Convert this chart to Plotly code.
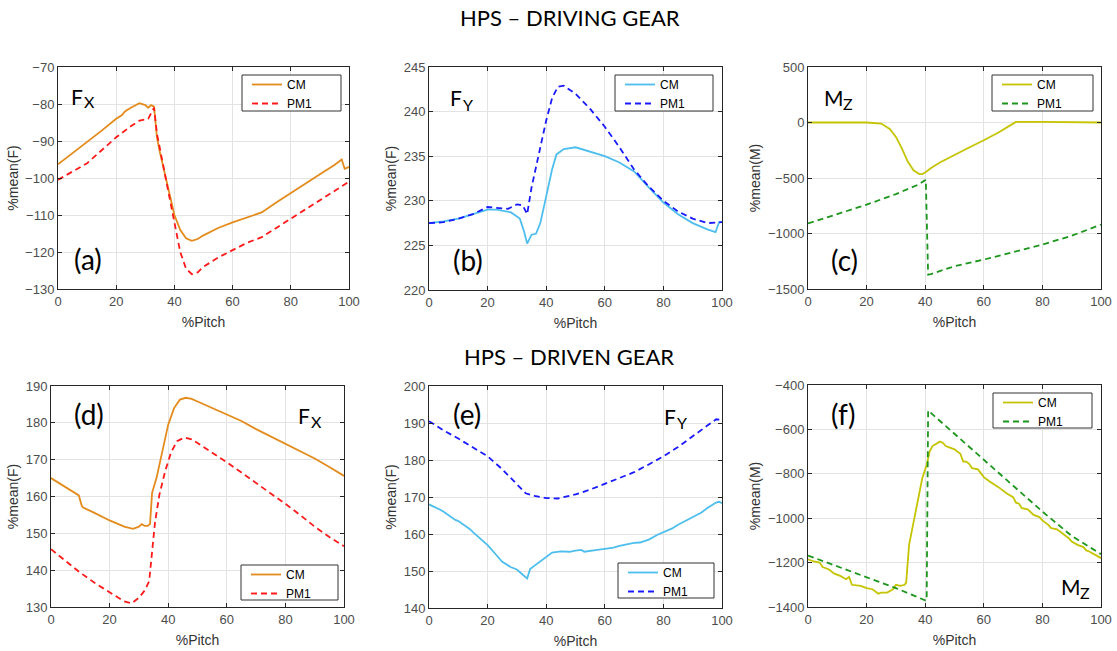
import plotly.graph_objects as go

# ---------------- data ----------------
# (a) driving gear Fx
a_cm_x = [0, 5, 10, 15, 20, 22, 23, 25, 28, 30, 31, 32, 33, 34, 35, 37, 40, 42, 44, 46, 48, 50, 55, 60, 65, 70, 75, 80, 85, 90, 95, 97.5, 98.5, 100]
a_cm_y = [-96.3, -93.3, -90.3, -87.2, -84, -83, -82, -81, -79.8, -80.3, -81, -80.3, -80.7, -89, -93, -100, -110, -114, -116.3, -117, -116.5, -115.5, -113.5, -112, -110.6, -109.3, -106.6, -104, -101.5, -99, -96.5, -95, -97.5, -97]
a_pm_x = [0, 5, 10, 15, 20, 25, 28, 31, 33, 34, 36, 38, 40, 42, 44, 46, 48, 50, 55, 60, 65, 70, 75, 80, 85, 90, 95, 100]
a_pm_y = [-100.5, -98.3, -96, -92.5, -89, -86, -84.5, -84, -81, -88, -96, -103, -112, -120, -124.5, -126, -125.5, -124, -121.5, -119.5, -117.5, -116, -113.5, -111, -108.5, -106, -103.5, -101]

# (b) driving gear Fy
b_cm_x = [0, 5, 10, 15, 20, 23, 28, 31, 32.5, 33.5, 35, 36.5, 38, 40, 42, 43.5, 46, 50, 55, 60, 65, 70, 75, 80, 85, 90, 95, 97.8, 99, 100]
b_cm_y = [227.5, 227.7, 228, 228.5, 229, 229, 228.7, 228, 226.5, 225.2, 226.2, 226.3, 227.5, 230.5, 233.5, 235.2, 235.8, 236, 235.5, 235, 234.3, 233.3, 231.5, 229.8, 228.5, 227.5, 226.8, 226.5, 227.6, 227.6]
b_pm_x = [0, 5, 10, 15, 20, 23, 27, 30, 32, 33.5, 35, 37, 40, 42, 44, 46, 50, 55, 60, 65, 70, 75, 80, 85, 90, 95, 100]
b_pm_y = [227.5, 227.6, 228, 228.5, 229.3, 229.2, 229.1, 229.6, 229.5, 228.5, 231.5, 234.5, 239, 241.5, 242.8, 242.9, 242, 240.3, 238.3, 236, 233.5, 231.6, 230, 228.8, 228, 227.5, 227.6]

# (c) driving gear Mz
c_cm_x = [0, 10, 20, 25, 28, 30, 32, 34, 36, 38, 39, 40, 42, 45, 50, 55, 60, 65, 70, 71, 80, 90, 100]
c_cm_y = [0, 0, 0, -10, -60, -130, -230, -350, -430, -465, -465, -450, -410, -360, -290, -225, -160, -90, -10, 5, 5, 2, 0]
c_pm_x = [0, 10, 20, 30, 38, 40.2, 41.0, 42, 50, 60, 70, 80, 90, 100]
c_pm_y = [-910, -825, -740, -645, -555, -515, -1370, -1365, -1295, -1235, -1170, -1100, -1020, -920]

# (d) driven gear Fx
d_cm_x = [0, 5, 9.5, 10.5, 11, 15, 20, 25, 28, 30, 31, 32, 33, 33.8, 34.5, 36, 38, 40, 42, 44, 46, 48, 50, 55, 60, 65, 70, 75, 80, 85, 90, 95, 100]
d_cm_y = [165, 162.5, 160.3, 157.5, 157, 155.5, 153.5, 151.8, 151.2, 151.8, 152.5, 152, 152, 152.5, 161, 165, 172, 179.5, 184, 186.3, 186.8, 186.5, 185.8, 184, 182.3, 180.5, 178.3, 176.3, 174.5, 172.5, 170.3, 168, 165.6]
d_pm_x = [0, 5, 10, 15, 20, 25, 27.5, 30, 32, 33.5, 34.5, 35.5, 37, 39, 41, 43, 45.5, 48, 50, 55, 60, 65, 70, 75, 80, 85, 90, 95, 100]
d_pm_y = [145.7, 142.5, 139.3, 136.5, 134, 131.5, 131, 132.5, 134.5, 137, 145, 153, 160.5, 167, 172, 175, 176, 175.5, 174.5, 172, 169.3, 166.5, 163.7, 161, 158, 155, 151.8, 149, 146.5]

# (e) driven gear Fy
e_cm_x = [0, 2, 4, 5, 7, 9, 10, 12, 14, 15, 17, 20, 22, 25, 28, 30, 32, 33.5, 34.5, 37, 40, 42, 45, 48, 50, 52, 53, 55, 58, 60, 63, 65, 68, 70, 72, 75, 78, 80, 83, 85, 88, 90, 93, 95, 98, 99, 100]
e_cm_y = [168, 167.3, 166.5, 166, 164.8, 163.8, 163.5, 162.5, 161.3, 160.5, 159, 157, 155.2, 152.5, 151, 150.4, 149, 148, 150.5, 152, 154, 155, 155.3, 155.2, 155.5, 155.7, 155.2, 155.5, 155.8, 156, 156.3, 156.8, 157.3, 157.6, 157.7, 158.5, 159.8, 160.5, 161.5, 162.5, 163.8, 164.5, 165.8, 167, 168.5, 168.7, 168.3]
e_pm_x = [0, 5, 10, 15, 20, 25, 30, 33, 36, 40, 44, 50, 55, 60, 65, 70, 75, 80, 85, 90, 95, 98, 100]
e_pm_y = [190.5, 188, 185.8, 183.5, 181, 177.5, 173.5, 171, 170.3, 169.7, 169.6, 170.7, 172, 173.5, 175.2, 176.7, 178.8, 181, 183.5, 186.5, 189.3, 191, 190.8]

# (f) driven gear Mz
f_cm_x = [0, 2, 4, 5, 7, 9, 11, 13, 14, 15, 18, 20, 22, 24, 25, 27, 29, 30, 31.5, 33, 33.5, 34.5, 36, 38, 39, 40.5, 41.5, 42.5, 44, 45, 46, 47, 48, 50, 52, 53, 54, 55, 56, 58, 60, 62, 65, 68, 70, 71, 72, 73, 75, 77, 79, 80, 82, 83, 85, 87, 89, 90, 92, 94, 95, 96, 98, 100]
f_cm_y = [-1185, -1195, -1200, -1220, -1230, -1250, -1260, -1275, -1265, -1300, -1305, -1315, -1320, -1340, -1335, -1335, -1320, -1300, -1305, -1300, -1290, -1120, -1020, -880, -820, -760, -700, -675, -665, -655, -660, -675, -680, -690, -710, -745, -745, -755, -775, -780, -815, -835, -860, -890, -905, -930, -935, -955, -960, -985, -995, -1010, -1030, -1045, -1050, -1070, -1090, -1105, -1120, -1130, -1145, -1150, -1165, -1180]
f_pm_x = [0, 10, 20, 30, 40, 40.5, 41, 50, 60, 70, 80, 90, 100]
f_pm_y = [-1168, -1218, -1265, -1315, -1370, -1370, -515, -620, -740, -855, -970, -1080, -1162]

# axis ranges / ticks
x_range = [0, 100]
x_ticks = [0, 20, 40, 60, 80, 100]
ranges = {
    "a": ([-130, -70], [-130, -120, -110, -100, -90, -80, -70], "%mean(F)"),
    "b": ([220, 245], [220, 225, 230, 235, 240, 245], "%mean(F)"),
    "c": ([-1500, 500], [-1500, -1000, -500, 0, 500], "%mean(M)"),
    "d": ([130, 190], [130, 140, 150, 160, 170, 180, 190], "%mean(F)"),
    "e": ([140, 200], [140, 150, 160, 170, 180, 190, 200], "%mean(F)"),
    "f": ([-1400, -400], [-1400, -1200, -1000, -800, -600, -400], "%mean(M)"),
}
series_names = ["CM", "PM1"]
titles = ["HPS \u2013 DRIVING GEAR", "HPS \u2013 DRIVEN GEAR"]
panel_tags = ["(a)", "(b)", "(c)", "(d)", "(e)", "(f)"]

# ---------------- layout helpers ----------------
W, H = 1117, 651
# plot boxes in pixels: left, right, top, bottom
boxes = {
    "a": (58, 349, 67, 289),
    "b": (429, 722, 67, 290),
    "c": (808, 1101, 67, 289),
    "d": (51, 344, 386, 607),
    "e": (429, 722, 386, 608),
    "f": (808, 1101, 385, 607),
}
legend_box = {  # left, right, top, bottom in px
    "a": (242, 341, 75, 111),
    "b": (615, 713, 75, 111),
    "c": (992, 1093, 75, 111),
    "d": (241, 338, 565, 600),
    "e": (618, 714, 563, 598),
    "f": (993, 1092, 393, 428),
}
colors = {
    "a": ("#E38B1C", "#FF1A1A"),
    "b": ("#4DBEEE", "#1A1AFF"),
    "c": ("#C4C400", "#1E961E"),
    "d": ("#E38B1C", "#FF1A1A"),
    "e": ("#4DBEEE", "#1A1AFF"),
    "f": ("#C4C400", "#1E961E"),
}
data = {
    "a": (a_cm_x, a_cm_y, a_pm_x, a_pm_y),
    "b": (b_cm_x, b_cm_y, b_pm_x, b_pm_y),
    "c": (c_cm_x, c_cm_y, c_pm_x, c_pm_y),
    "d": (d_cm_x, d_cm_y, d_pm_x, d_pm_y),
    "e": (e_cm_x, e_cm_y, e_pm_x, e_pm_y),
    "f": (f_cm_x, f_cm_y, f_pm_x, f_pm_y),
}

def px(x):
    return x / W

def py(y):
    return 1 - y / H

fig = go.Figure()
layout = dict(
    width=W, height=H,
    margin=dict(l=0, r=0, t=0, b=0),
    paper_bgcolor="white", plot_bgcolor="white",
    font=dict(family="Liberation Sans, Arial", size=12, color="#404040"),
)
annotations = []
shapes = []
tick_font = dict(family="Liberation Sans, Arial", size=13, color="#4D4D4D")
title_font = dict(family="Liberation Sans, Arial", size=14, color="#333333")

for i, key in enumerate(["a", "b", "c", "d", "e", "f"]):
    n = i + 1
    sfx = "" if n == 1 else str(n)
    l, r, t, b = boxes[key]
    yr, yt, ytitle = ranges[key]
    layout["xaxis" + sfx] = dict(
        domain=[px(l), px(r)], anchor="y" + sfx, range=x_range,
        tickvals=x_ticks, showgrid=True, gridcolor="#E3E3E3", gridwidth=1,
        zeroline=False, showline=True, linecolor="#262626", linewidth=1,
        mirror="ticks", ticks="inside", ticklen=4, tickcolor="#262626",
        tickfont=tick_font, automargin=False,
        title=dict(text="%Pitch", font=title_font, standoff=9),
    )
    layout["yaxis" + sfx] = dict(
        domain=[py(b), py(t)], anchor="x" + sfx, range=yr,
        tickvals=yt, showgrid=True, gridcolor="#E3E3E3", gridwidth=1,
        zeroline=False, showline=True, linecolor="#262626", linewidth=1,
        mirror="ticks", ticks="inside", ticklen=4, tickcolor="#262626",
        tickfont=tick_font, automargin=False,
        title=dict(text=ytitle, font=title_font, standoff=3),
    )
    lg = "legend" if n == 1 else "legend" + str(n)
    bl, br, bt, bb = legend_box[key]
    shapes.append(dict(type="rect", xref="paper", yref="paper",
                       x0=px(bl), x1=px(br), y0=py(bb), y1=py(bt),
                       line=dict(color="#333333", width=1), fillcolor="white", layer="above"))
    layout[lg] = dict(
        x=px(bl + 5), y=py(bt - 5), xanchor="left", yanchor="top",
        bgcolor="rgba(0,0,0,0)", borderwidth=0,
        font=dict(family="Liberation Sans, Arial", size=12, color="black"),
        itemwidth=30, tracegroupgap=0,
    )
    cmx, cmy, pmx, pmy = data[key]
    c1, c2 = colors[key]
    fig.add_trace(go.Scatter(x=cmx, y=cmy, mode="lines", name=series_names[0],
                             line=dict(color=c1, width=1.8),
                             xaxis="x" + sfx, yaxis="y" + sfx, legend=lg))
    fig.add_trace(go.Scatter(x=pmx, y=pmy, mode="lines", name=series_names[1],
                             line=dict(color=c2, width=1.8, dash="6px,4px"),
                             xaxis="x" + sfx, yaxis="y" + sfx, legend=lg))

big_family = "Lato, Carlito, sans-serif"

def add_text(txt, x, y, size):
    annotations.append(dict(text=txt, x=px(x), y=py(y), xref="paper", yref="paper",
                            xanchor="left", yanchor="middle", showarrow=False,
                            font=dict(family=big_family, size=size, color="black")))

# component labels: main letter, subscript letter, left x, center y of main letter
components = [
    ("F", "X", 69, 96, 13),
    ("F", "Y", 448, 98, 13),
    ("M", "Z", 822, 97, 19),
    ("F", "X", 296, 415, 13),
    ("F", "Y", 662, 416, 13),
    ("M", "Z", 1059, 586, 19),
]
for main, sub, x, y, w in components:
    add_text(main, x, y, 21)
    add_text(sub, x + w, y + 6, 16)

tag_pos = [(72, 259), (451, 260), (829, 260), (72, 414), (451, 414), (829, 414)]
for tag, (x, y) in zip(panel_tags, tag_pos):
    add_text(tag, x, y, 28)

annotations.append(dict(text=titles[0], x=px(570), y=py(18), xref="paper", yref="paper",
                        xanchor="center", yanchor="middle", showarrow=False,
                        font=dict(family="Lato, sans-serif", size=22, color="black")))
annotations.append(dict(text=titles[1], x=px(569), y=py(356), xref="paper", yref="paper",
                        xanchor="center", yanchor="middle", showarrow=False,
                        font=dict(family="Lato, sans-serif", size=22, color="black")))
layout["annotations"] = annotations
layout["shapes"] = shapes
fig.update_layout(**layout)
fig.write_html("out.html")
